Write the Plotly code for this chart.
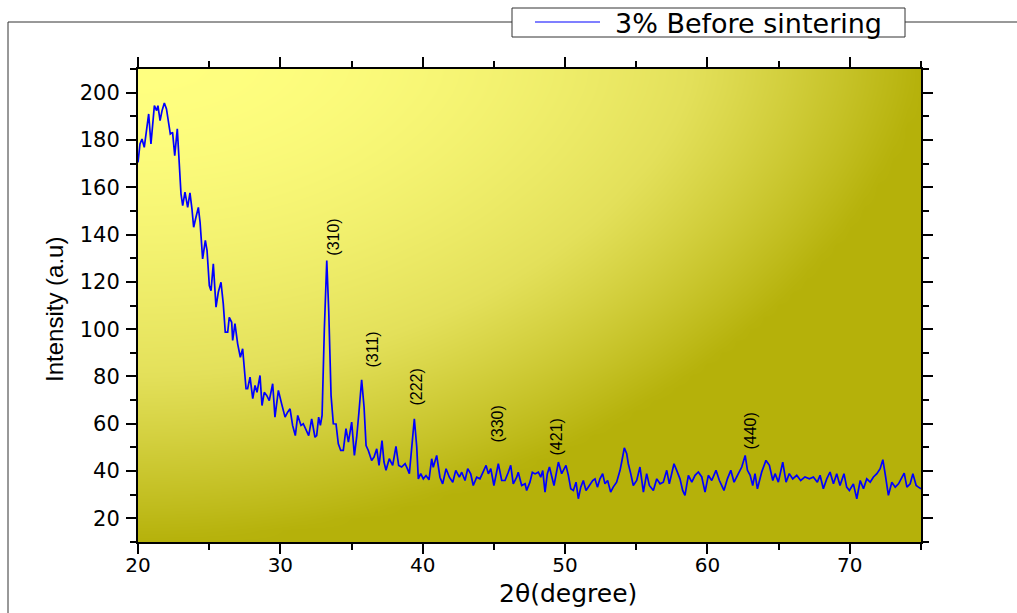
import numpy as np
import plotly.graph_objects as go

# ---------------- data ----------------
series_name = "3% Before sintering"

two_theta = [
    20.0, 20.14, 20.28, 20.44, 20.75, 20.91, 21.15, 21.31, 21.4, 21.55, 21.69, 21.85, 22.0,
    22.27, 22.43, 22.58, 22.76, 23.02, 23.14, 23.3, 23.49, 23.65, 23.79, 23.91, 24.07, 24.24,
    24.36, 24.54, 24.73, 24.85, 25.01, 25.13, 25.29, 25.48, 25.64, 25.83, 25.99, 26.13, 26.3,
    26.41, 26.58, 26.65, 26.81, 27.0, 27.19, 27.35, 27.59, 27.7, 27.87, 28.06, 28.22, 28.36,
    28.57, 28.71, 28.87, 29.04, 29.22, 29.46, 29.62, 29.86, 30.09, 30.33, 30.51, 30.68, 30.86,
    31.05, 31.22, 31.45, 31.61, 31.8, 31.99, 32.2, 32.43, 32.55, 32.69, 32.81, 32.93, 33.09,
    33.26, 33.4, 33.56, 33.72, 33.91, 34.07, 34.24, 34.42, 34.61, 34.78, 35.01, 35.2, 35.36,
    35.52, 35.71, 35.88, 36.02, 36.18, 36.41, 36.58, 36.77, 36.93, 37.14, 37.28, 37.42, 37.65,
    37.89, 38.12, 38.31, 38.52, 38.76, 38.92, 39.06, 39.23, 39.41, 39.58, 39.69, 39.86, 40.04,
    40.23, 40.44, 40.63, 40.74, 40.98, 41.21, 41.4, 41.64, 41.87, 42.11, 42.32, 42.57, 42.74,
    42.97, 43.16, 43.37, 43.55, 43.79, 44.02, 44.21, 44.45, 44.61, 44.78, 45.0, 45.31, 45.55,
    45.78, 46.01, 46.18, 46.36, 46.6, 46.71, 46.95, 47.19, 47.3, 47.53, 47.7, 47.89, 48.12,
    48.29, 48.43, 48.59, 48.75, 48.9, 49.06, 49.22, 49.53, 49.76, 50.06, 50.23, 50.4, 50.58,
    50.77, 50.93, 51.1, 51.28, 51.47, 51.7, 51.94, 52.1, 52.27, 52.45, 52.64, 52.8, 52.99,
    53.2, 53.38, 53.62, 53.86, 54.02, 54.16, 54.33, 54.44, 54.61, 54.79, 55.03, 55.26, 55.5,
    55.73, 55.92, 56.2, 56.44, 56.67, 56.9, 57.14, 57.32, 57.49, 57.65, 57.84, 58.07, 58.26,
    58.42, 58.66, 58.9, 59.13, 59.36, 59.6, 59.83, 60.06, 60.3, 60.6, 60.84, 61.16, 61.4,
    61.64, 61.87, 62.17, 62.41, 62.65, 62.81, 63.0, 63.18, 63.34, 63.51, 63.81, 64.11, 64.35,
    64.59, 64.75, 64.98, 65.29, 65.52, 65.75, 65.99, 66.27, 66.55, 66.85, 67.16, 67.44, 67.72,
    67.91, 68.14, 68.38, 68.61, 68.85, 69.08, 69.31, 69.59, 69.78, 69.97, 70.25, 70.49, 70.73,
    70.96, 71.19, 71.43, 71.66, 71.9, 72.13, 72.32, 72.48, 72.71, 72.95, 73.19, 73.42, 73.66,
    73.82, 74.01, 74.24, 74.43, 74.66, 74.82, 75.0,
]

intensity = [
    170.5, 178.3, 180.4, 176.9, 191.0, 178.3, 194.5, 192.4, 194.5, 188.2, 192.4, 195.6, 193.1,
    182.5, 183.2, 173.4, 184.7, 157.2, 152.2, 157.9, 151.5, 157.6, 150.8, 143.1, 147.3, 151.5,
    145.2, 129.7, 137.5, 133.2, 118.4, 116.3, 127.6, 109.3, 115.6, 119.8, 110.7, 98.7, 98.7,
    105.0, 102.9, 95.2, 102.3, 93.8, 88.1, 91.7, 74.8, 74.8, 79.7, 70.6, 76.2, 73.3,
    80.4, 67.7, 73.3, 72.0, 69.8, 76.9, 62.8, 74.1, 68.4, 62.8, 64.9, 66.3, 59.3,
    55.0, 63.5, 59.3, 60.0, 57.2, 55.0, 62.1, 54.3, 55.0, 62.8, 59.3, 63.5, 100.1,
    129.0, 107.2, 72.0, 60.0, 59.9, 51.5, 48.7, 48.7, 57.9, 52.2, 60.7, 46.6, 54.3,
    64.9, 78.6, 67.0, 50.8, 48.7, 44.5, 45.9, 49.4, 42.4, 52.9, 43.8, 40.3, 45.2,
    42.4, 50.4, 42.4, 41.7, 43.1, 41.0, 38.9, 50.1, 62.1, 50.1, 36.7, 38.9, 36.7,
    38.1, 36.3, 45.2, 41.6, 46.6, 37.4, 34.6, 41.0, 37.4, 35.3, 40.3, 37.4, 39.5,
    36.0, 41.0, 38.8, 33.9, 37.4, 36.7, 39.5, 42.4, 38.8, 41.0, 33.9, 43.1, 36.0,
    36.0, 39.5, 42.4, 34.6, 37.4, 39.5, 33.9, 34.6, 31.8, 35.3, 39.5, 38.8, 39.5,
    37.4, 40.2, 31.1, 38.8, 41.7, 37.4, 33.9, 43.8, 38.9, 42.4, 38.2, 32.5, 31.8,
    35.3, 28.3, 33.2, 36.0, 31.8, 33.9, 36.0, 36.7, 33.2, 36.7, 38.9, 34.6, 36.0,
    31.1, 33.2, 35.3, 40.3, 45.2, 49.8, 47.3, 43.1, 38.9, 33.9, 36.0, 41.7, 31.1,
    38.9, 33.9, 31.8, 36.7, 34.6, 35.3, 40.3, 34.6, 39.6, 43.1, 40.3, 36.7, 31.8,
    29.7, 38.2, 35.3, 38.2, 39.6, 37.5, 31.1, 38.2, 36.0, 40.3, 36.0, 31.8, 36.7,
    40.3, 35.3, 38.9, 41.7, 46.6, 40.3, 38.2, 33.9, 38.9, 32.5, 39.6, 44.5, 42.4,
    36.0, 38.9, 35.3, 43.8, 35.3, 38.9, 36.7, 38.2, 36.0, 37.5, 36.7, 37.5, 35.3,
    38.2, 32.5, 36.7, 39.6, 34.6, 38.9, 33.9, 38.9, 33.2, 31.8, 34.6, 28.3, 36.0,
    32.5, 36.7, 35.3, 37.5, 38.9, 41.0, 44.8, 38.9, 29.7, 35.3, 33.2, 34.6, 37.5,
    39.1, 33.2, 34.6, 38.9, 33.9, 33.2, 32.5,
]

peak_labels = ["(310)", "(311)", "(222)", "(330)", "(421)", "(440)"]
peak_x = [33.77, 36.44, 39.6, 45.22, 49.43, 63.06]
peak_y = [138.7, 91.4, 75.3, 59.7, 54.6, 56.7]

x_ticks = [20, 30, 40, 50, 60, 70]
y_ticks = [20, 40, 60, 80, 100, 120, 140, 160, 180, 200]
x_title = "2θ(degree)"
y_title = "Intensity (a.u)"

# ---------------- layout geometry (pixels) ----------------
W, H = 1017, 613
L, R, T, B = 138, 96, 69, 71
PW, PH = W - L - R, H - T - B


def px(xp):
    return (xp - L) / PW


def py(yp):
    return (H - B - yp) / PH


# ---------------- background gradient (style only) ----------------
gx = np.linspace(20, 75, 56)
gy = np.linspace(10, 210, 41)
U, V = np.meshgrid((gx - 20) / 55.0, (210 - gy) / 200.0)
shade = np.clip(1.0 * U ** 2.0 + 1.0 * V ** 1.6, 0, 1)

fig = go.Figure()
fig.add_trace(go.Heatmap(
    x=gx, y=gy, z=shade, zmin=0, zmax=1, zsmooth="best", showscale=False,
    colorscale=[[0, "rgb(255,255,128)"], [0.5, "rgb(227,224,90)"], [1, "rgb(181,177,10)"]],
    hoverinfo="skip", showlegend=False,
))

fig.add_trace(go.Scatter(
    x=two_theta, y=intensity, mode="lines", name=series_name,
    line=dict(color="#0000FF", width=1.7), showlegend=False,
))

annotations = []
for lab, xv, yv in zip(peak_labels, peak_x, peak_y):
    annotations.append(dict(
        x=xv, y=yv, xref="x", yref="y", text=lab, textangle=-90, showarrow=False,
        xanchor="center", yanchor="middle",
        font=dict(family="Liberation Sans", size=16, color="black"),
    ))

annotations.append(dict(
    x=px(54), y=py(310), xref="paper", yref="paper", text=y_title, textangle=-90,
    xanchor="center", yanchor="middle", showarrow=False,
    font=dict(family="Liberation Sans", size=24, color="black"),
))
annotations.append(dict(
    x=px(568), y=py(593), xref="paper", yref="paper", text=x_title,
    xanchor="center", yanchor="middle", showarrow=False,
    font=dict(family="DejaVu Sans", size=25, color="black"),
))
# legend text
annotations.append(dict(
    x=px(613), y=py(23), xref="paper", yref="paper", text=series_name,
    xanchor="left", yanchor="middle", showarrow=False,
    font=dict(family="DejaVu Sans", size=27, color="black"),
))

shapes = [
    # outer frame
    dict(type="line", xref="paper", yref="paper", x0=px(8), x1=px(8), y0=py(22), y1=py(613),
         line=dict(color="#333333", width=1)),
    dict(type="line", xref="paper", yref="paper", x0=px(8), x1=px(512), y0=py(22), y1=py(22),
         line=dict(color="#333333", width=1)),
    dict(type="line", xref="paper", yref="paper", x0=px(905), x1=px(1017), y0=py(22), y1=py(22),
         line=dict(color="#333333", width=1)),
    # legend box
    dict(type="rect", xref="paper", yref="paper", x0=px(512), x1=px(905), y0=py(37), y1=py(8),
         fillcolor="white", line=dict(color="#333333", width=1)),
    dict(type="line", xref="paper", yref="paper", x0=px(535), x1=px(600), y0=py(22), y1=py(22),
         line=dict(color="#0000FF", width=1.2)),
]

axis_common = dict(
    showgrid=False, zeroline=False, showline=True, linecolor="black", linewidth=2,
    mirror="ticks", ticks="outside", tickcolor="black", tickwidth=2, ticklen=10,
)

fig.update_layout(
    width=W, height=H,
    margin=dict(l=L, r=R, t=T, b=B, pad=0),
    paper_bgcolor="white", plot_bgcolor="white",
    showlegend=False,
    xaxis=dict(range=[20, 75], tickvals=x_ticks, ticktext=[str(v) for v in x_ticks],
               tickfont=dict(family="DejaVu Sans", size=20, color="black"),
               minor=dict(dtick=5, tick0=20, ticks="outside", ticklen=6, tickcolor="black",
                          tickwidth=2),
               ticklabelstandoff=-6, **axis_common),
    yaxis=dict(range=[10, 210], tickvals=y_ticks, ticktext=[str(v) for v in y_ticks],
               tickfont=dict(family="DejaVu Sans", size=21, color="black"),
               minor=dict(dtick=10, tick0=10, ticks="outside", ticklen=6, tickcolor="black",
                          tickwidth=2),
               ticklabelstandoff=2, **axis_common),
    annotations=annotations,
    shapes=shapes,
)

fig.write_html("out.html", config={"displayModeBar": False},
               post_script="document.body.style.margin='0px';")
